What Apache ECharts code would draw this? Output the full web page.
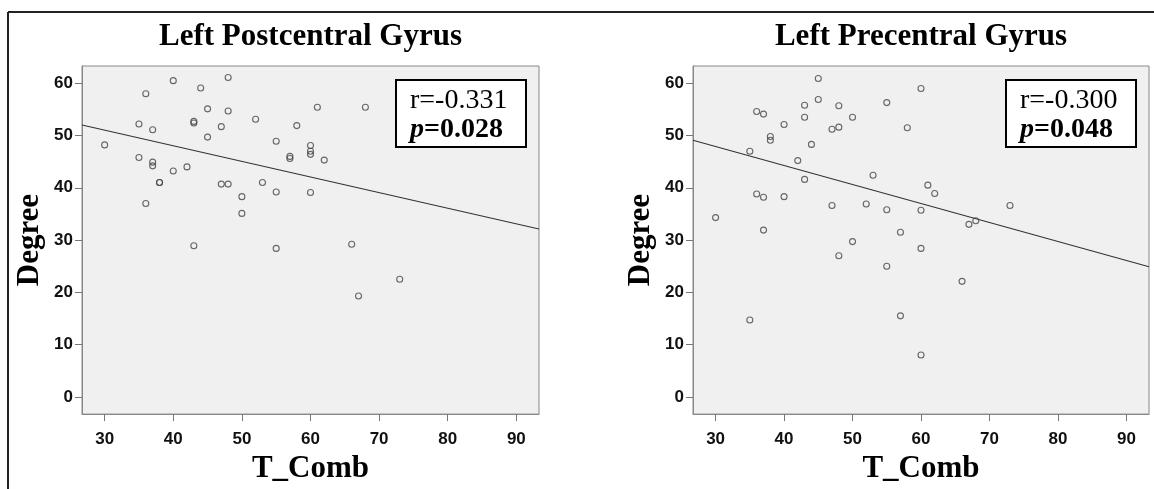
<!DOCTYPE html>
<html>
<head>
<meta charset="utf-8">
<script src="https://cdn.jsdelivr.net/npm/echarts@6/dist/echarts.min.js"></script>
<style>
html,body{margin:0;padding:0;background:#fff;}
#chart{width:1154px;height:489px;}
</style>
</head>
<body>
<div id="chart"></div>
<script>
// ---- data ----
const xTicks = [30, 40, 50, 60, 70, 80, 90];
const yTicks = [0, 10, 20, 30, 40, 50, 60];
const tComb = [30,35,35,36,36,37,37,37,38,38,40,40,42,43,43,43,44,45,45,47,47,48,48,48,50,50,52,53,55,55,55,57,57,58,60,60,60,60,61,62,66,67,68,73];
const postDegree = [48.2,52.2,45.8,58.0,37.0,51.1,44.9,44.2,41.0,41.0,60.5,43.2,44.0,52.7,52.4,28.9,59.1,55.1,49.7,51.7,40.7,61.1,54.7,40.7,38.3,35.1,53.1,41.0,48.9,39.2,28.4,46.0,45.6,51.9,48.1,47.0,46.4,39.1,55.4,45.3,29.2,19.3,55.4,22.5];
const preDegree = [34.3,47.0,14.7,54.6,38.8,54.1,38.2,31.9,49.8,49.1,52.1,38.3,45.2,55.8,53.5,41.6,48.3,60.9,56.9,51.2,36.6,55.7,51.6,27.0,53.5,29.7,36.9,42.4,56.3,35.8,25.0,31.5,15.5,51.5,59.0,35.7,28.4,8.0,40.5,38.9,22.1,33.0,33.7,36.6];
const fitT = [26.7, 93.3];
const postFit = [52.0, 32.1];
const preFit = [49.1, 24.9];
const titles = ['Left Postcentral Gyrus', 'Left Precentral Gyrus'];
const statsR = ['r=-0.331', 'r=-0.300'];
const statsP = ['=0.028', '=0.048'];
const xName = 'T_Comb';
const yName = 'Degree';
const xRange = [26.7, 93.3];
const yRange = [-3.3, 63.3];

// ---- chart ----
const chart = echarts.init(document.getElementById('chart'), null, {renderer: 'canvas'});
const grids = [
  {left: 82, top: 66, width: 457, height: 352},
  {left: 693, top: 66, width: 456, height: 352}
];
const serif = '"Liberation Serif","Times New Roman",serif';
const sans = '"Liberation Sans",Arial,sans-serif';

function mkX(i){
  return {
    type: 'value', gridIndex: i, min: xRange[0], max: xRange[1],
    name: xName, nameLocation: 'middle', nameGap: 32,
    nameTextStyle: {fontFamily: serif, fontWeight: 'bold', fontSize: 31, color: '#000'},
    axisLine: {show: true, onZero: false, lineStyle: {color: '#888', width: 1}},
    axisTick: {show: true, length: 7, customValues: xTicks, lineStyle: {color: '#777'}},
    axisLabel: {customValues: xTicks, margin: 17, fontFamily: sans, fontWeight: 'bold', fontSize: 17, color: '#111'},
    splitLine: {show: false}
  };
}
function mkY(i){
  return {
    type: 'value', gridIndex: i, min: yRange[0], max: yRange[1],
    name: yName, nameLocation: 'middle', nameGap: 37, nameRotate: 90,
    nameTextStyle: {fontFamily: serif, fontWeight: 'bold', fontSize: 31, color: '#000'},
    axisLine: {show: true, onZero: false, lineStyle: {color: '#888', width: 1}},
    axisTick: {show: true, length: 7, customValues: yTicks, lineStyle: {color: '#777'}},
    axisLabel: {customValues: yTicks, margin: 9, fontFamily: sans, fontWeight: 'bold', fontSize: 17, color: '#111'},
    splitLine: {show: false}
  };
}

const series = [];
[postDegree, preDegree].forEach((deg, i) => {
  series.push({
    type: 'scatter', xAxisIndex: i, yAxisIndex: i,
    data: tComb.map((t, k) => [t, deg[k]]),
    symbol: 'circle', symbolSize: 6,
    itemStyle: {color: 'rgba(0,0,0,0)', borderColor: '#444', borderWidth: 1.1},
    silent: true, z: 3
  });
  const fit = i === 0 ? postFit : preFit;
  series.push({
    type: 'line', xAxisIndex: i, yAxisIndex: i,
    data: fitT.map((t, k) => [t, fit[k]]),
    symbol: 'none', lineStyle: {color: '#333', width: 1.1},
    silent: true, z: 2, animation: false
  });
});

const graphic = [
  {type: 'line', shape: {x1: 8, y1: 12, x2: 1154, y2: 12}, style: {stroke: '#222', lineWidth: 2}},
  {type: 'line', shape: {x1: 8, y1: 12, x2: 8, y2: 489}, style: {stroke: '#222', lineWidth: 2}}
];
grids.forEach((g, i) => {
  graphic.push({type: 'text', style: {x: g.left + g.width / 2, y: 37, text: titles[i], align: 'center', verticalAlign: 'middle', font: 'bold 31px ' + serif, fill: '#000'}});
  const bx = g.left + g.width - 143, by = 80;
  graphic.push({type: 'rect', shape: {x: bx, y: by, width: 130, height: 67}, style: {fill: '#fff', stroke: '#000', lineWidth: 2}, z: 10});
  graphic.push({type: 'text', z: 11, style: {x: bx + 14, y: by + 21, text: statsR[i], align: 'left', verticalAlign: 'middle', font: '28px ' + serif, fill: '#000'}});
  graphic.push({type: 'text', z: 11, style: {x: bx + 14, y: by + 50, text: '{i|p}{b|' + statsP[i] + '}', align: 'left', verticalAlign: 'middle',
    rich: {i: {font: 'italic bold 28px ' + serif, fill: '#000'}, b: {font: 'bold 28px ' + serif, fill: '#000'}}}});
});

chart.setOption({
  animation: false,
  backgroundColor: '#fff',
  grid: grids.map(g => Object.assign({show: true, backgroundColor: '#f0f0f0', borderColor: '#888', borderWidth: 1, containLabel: false}, g)),
  xAxis: [mkX(0), mkX(1)],
  yAxis: [mkY(0), mkY(1)],
  series: series,
  graphic: graphic
});
</script>
</body>
</html>
